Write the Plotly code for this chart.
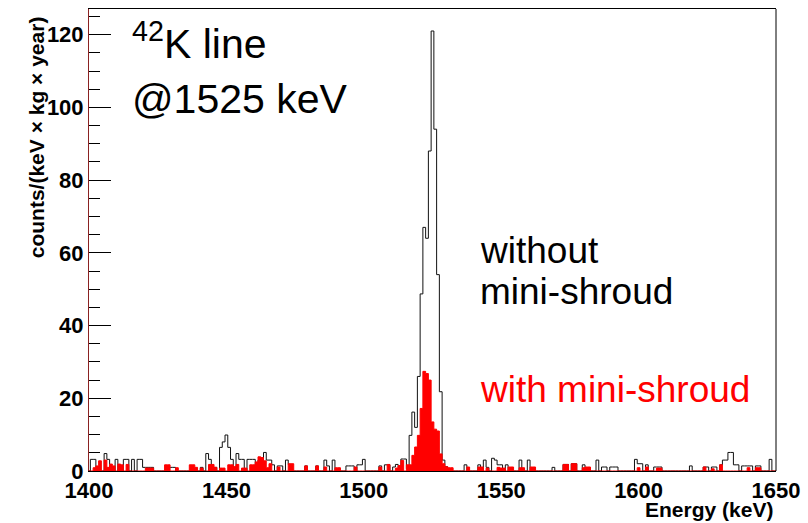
import plotly.graph_objects as go

# Bin centres (1 keV bins) in keV
energy = list(range(1400, 1651))

# counts/(keV x kg x year), without mini-shroud
without_shroud = [
    0, 3.2, 3.2, 0.9, 0, 0, 4.8, 3.2, 0, 0,            # 1400
    3.2, 0, 0, 3.2, 3.2, 0, 3.2, 0, 3.2, 3.2,          # 1410
    1.0, 1.0, 1.0, 1.0, 0, 0, 0, 0, 0, 1.0,            # 1420
    1.0, 1.0, 0, 0, 0, 0, 0, 0, 0, 0,                  # 1430
    0, 1.0, 0, 4.8, 3.2, 0, 1.0, 0, 6.5, 8.0,          # 1440
    9.9, 6.5, 3.2, 0, 4.8, 3.2, 3.2, 0, 3.2, 3.2,      # 1450
    3.2, 0, 3.0, 3.0, 5.1, 3.0, 3.0, 1.7, 0, 1.4,      # 1460
    1.4, 0, 3.0, 1.8, 0, 0, 0, 0, 0, 1.4,              # 1470
    0, 0, 0, 1.4, 0, 0, 3.0, 1.4, 0, 3.0,              # 1480
    0, 0, 0, 0, 1.4, 1.4, 1.4, 0, 1.7, 1.7,            # 1490
    3.2, 0, 0, 0, 0, 0, 1.4, 0, 1.7, 1.7,              # 1500
    0, 1.1, 1.8, 0, 3.3, 3.3, 0.6, 9.8, 16.2, 12.0,    # 1510
    26.0, 48.7, 67.0, 64.0, 88.0, 121.0, 94.0, 54.0, 21.8, 3.0,  # 1520
    1.2, 0, 0, 0, 0, 0, 0, 1.7, 0, 0,                  # 1530
    0, 0, 1.7, 0, 3.0, 1.0, 0, 3.5, 3.0, 1.7,          # 1540
    1.7, 0, 1.7, 0, 0, 0, 0, 3.0, 0, 0,                # 1550
    3.0, 0, 0, 0, 0, 0, 0, 0, 0, 1.0,                  # 1560
    0, 0, 0, 1.8, 1.8, 0, 2.0, 2.0, 0, 0,              # 1570
    1.7, 0, 0, 0, 0, 3.0, 0, 1.1, 1.1, 0,              # 1580
    1.1, 1.1, 1.1, 0, 0, 0, 0, 0, 0, 3.2,              # 1590
    2.0, 2.0, 0, 1.7, 0, 0, 1.1, 1.1, 1.1, 0,          # 1600
    0, 0, 0, 0, 0, 0, 0, 0, 0, 1.4,                    # 1610
    0, 0, 0, 0, 1.1, 1.1, 0, 1.1, 1.1, 0,              # 1620
    1.7, 3.0, 3.0, 5.1, 5.1, 1.7, 1.7, 0, 1.4, 1.4,    # 1630
    1.4, 1.4, 0, 1.4, 1.4, 0, 0, 0, 3.2, 0,            # 1640
    0,                                                 # 1650
]

# counts/(keV x kg x year), with mini-shroud
with_shroud = [
    0, 0, 0.9, 1.4, 2.8, 0, 3.0, 1.0, 1.9, 1.4,        # 1400
    0, 1.9, 1.7, 0, 1.8, 0, 0, 0, 0, 0,                # 1410
    0, 0.8, 0.8, 0.8, 0, 0, 0, 0, 1.7, 1.7,            # 1420
    0, 0, 0.9, 0, 0, 0, 0, 1.7, 1.7, 1.0,              # 1430
    0, 0.8, 0, 0, 1.8, 1.8, 1.0, 0, 0.8, 0.8,          # 1440
    0, 1.7, 1.7, 1.2, 1.8, 0, 0.8, 0.8, 0, 1.7,        # 1450
    1.7, 2.5, 3.9, 3.7, 2.8, 0.9, 2.0, 0, 0, 1.1,      # 1460
    0, 0, 0, 2.0, 2.0, 0, 0, 0, 0, 1.4,                # 1470
    0, 0, 0, 1.4, 0, 0, 1.1, 0, 0, 0,                  # 1480
    0.9, 0.9, 0, 0, 0, 0, 0, 1.1, 0, 0,                # 1490
    0, 0, 0, 0, 0, 0, 1.1, 0, 0, 1.8,                  # 1500
    0, 0, 0.8, 1.5, 2.9, 0, 1.7, 1.7, 4.3, 6.6,        # 1510
    9.8, 17.2, 27.4, 26.8, 25.0, 13.5, 11.5, 11.0, 4.7, 2.0,  # 1520
    1.2, 0.9, 0.9, 0, 0, 0, 0, 0, 1.1, 0,              # 1530
    0, 0, 1.1, 1.1, 0, 0.8, 0, 0, 0, 1.0,              # 1540
    0.8, 0.8, 0, 1.1, 1.1, 0, 0, 0.9, 0.9, 0,          # 1550
    0, 1.1, 1.1, 0, 0, 0, 0, 0, 0, 0,                  # 1560
    0, 0, 0, 1.8, 1.8, 0, 2.0, 2.0, 0, 0,              # 1570
    0.9, 1.1, 1.1, 0, 0, 0, 0, 0, 0, 0,                # 1580
    0, 0, 0, 0, 0, 0, 0, 0, 0, 0,                      # 1590
    0.9, 0, 0, 1.1, 0, 0, 0, 0.8, 0.8, 0,              # 1600
    0, 0, 0, 0, 0, 0, 0, 0, 0, 0,                      # 1610
    0, 0, 0, 0, 1.1, 0, 0, 0.6, 0, 0,                  # 1620
    1.7, 0, 0, 0, 0, 0, 0, 0, 0, 0,                    # 1630
    0.9, 0, 0, 0.9, 0.9, 0, 0, 0, 0, 0,                # 1640
    0,                                                 # 1650
]

x_ticks = [1400, 1450, 1500, 1550, 1600, 1650]
y_ticks = [0, 20, 40, 60, 80, 100, 120]


def step_xy(centres, values):
    """Histogram outline: left bin edges plus the final right edge."""
    xs = [c - 0.5 for c in centres] + [centres[-1] + 0.5]
    ys = list(values) + [values[-1]]
    return xs, ys


bx, by = step_xy(energy, without_shroud)
rx, ry = step_xy(energy, with_shroud)

AX_FONT = "Liberation Sans Narrow, Liberation Sans, Arial, sans-serif"
TXT_FONT = "Liberation Sans, Arial, sans-serif"

fig = go.Figure()
fig.add_trace(go.Scatter(
    x=bx, y=by, mode="lines", line=dict(color="#111111", width=1, shape="hv"),
    showlegend=False, hoverinfo="skip",
))
fig.add_trace(go.Scatter(
    x=rx, y=ry, mode="lines", line=dict(color="#ff0000", width=1, shape="hv"),
    fill="tozeroy", fillcolor="#ff0000", showlegend=False, hoverinfo="skip",
))

fig.update_layout(
    width=808, height=523,
    margin=dict(l=89, r=32, t=9, b=52),
    paper_bgcolor="white", plot_bgcolor="white",
    xaxis=dict(
        range=[1400, 1650], tickvals=x_ticks, ticktext=[str(v) for v in x_ticks],
        ticks="", showgrid=False, zeroline=False, ticklabelstandoff=0,
        showline=True, mirror=True, linecolor="black", linewidth=1,
        tickfont=dict(family=AX_FONT, size=22, color="black", weight="bold"),
    ),
    yaxis=dict(
        range=[0, 127.05], tickvals=y_ticks, ticktext=[str(v) for v in y_ticks],
        ticks="inside", ticklen=22, tickwidth=1, tickcolor="black",
        minor=dict(dtick=5, ticks="inside", ticklen=11, tickwidth=1, tickcolor="black"),
        showgrid=False, zeroline=False,
        showline=True, mirror=False, linecolor="#8a2222", linewidth=1,
        tickfont=dict(family=AX_FONT, size=22, color="black", weight="bold"),
    ),
)

# right-hand frame edge
fig.add_shape(type="line", xref="paper", yref="paper", x0=1, x1=1, y0=0, y1=1,
              line=dict(color="black", width=1))

fig.add_annotation(
    text="counts/(keV × kg × year)", textangle=-90, showarrow=False,
    xref="paper", yref="paper", x=-0.076, y=0.722, xanchor="center", yanchor="middle",
    font=dict(family=TXT_FONT, size=21, color="black", weight="bold"),
)
fig.add_annotation(
    text="Energy (keV)", showarrow=False,
    xref="paper", yref="paper", x=0.999, y=-0.084, xanchor="right", yanchor="middle",
    font=dict(family=AX_FONT, size=21, color="black", weight="bold"),
)

big = dict(family=TXT_FONT, size=41, color="black")
fig.add_annotation(text="<sup>42</sup>K line", showarrow=False, xref="paper", yref="paper",
                   x=0.059, y=0.93, xanchor="left", yanchor="middle", font=big)
fig.add_annotation(text="@1525 keV", showarrow=False, xref="paper", yref="paper",
                   x=0.059, y=0.805, xanchor="left", yanchor="middle", font=big)

mid = dict(family=TXT_FONT, size=37, color="black")
fig.add_annotation(text="without", showarrow=False, xref="paper", yref="paper",
                   x=0.566, y=0.478, xanchor="left", yanchor="middle", font=mid)
fig.add_annotation(text="mini-shroud", showarrow=False, xref="paper", yref="paper",
                   x=0.566, y=0.389, xanchor="left", yanchor="middle", font=mid)
fig.add_annotation(text="with mini-shroud", showarrow=False, xref="paper", yref="paper",
                   x=0.566, y=0.176, xanchor="left", yanchor="middle",
                   font=dict(family=TXT_FONT, size=37, color="#ff0000"))

fig.write_html("out.html")
